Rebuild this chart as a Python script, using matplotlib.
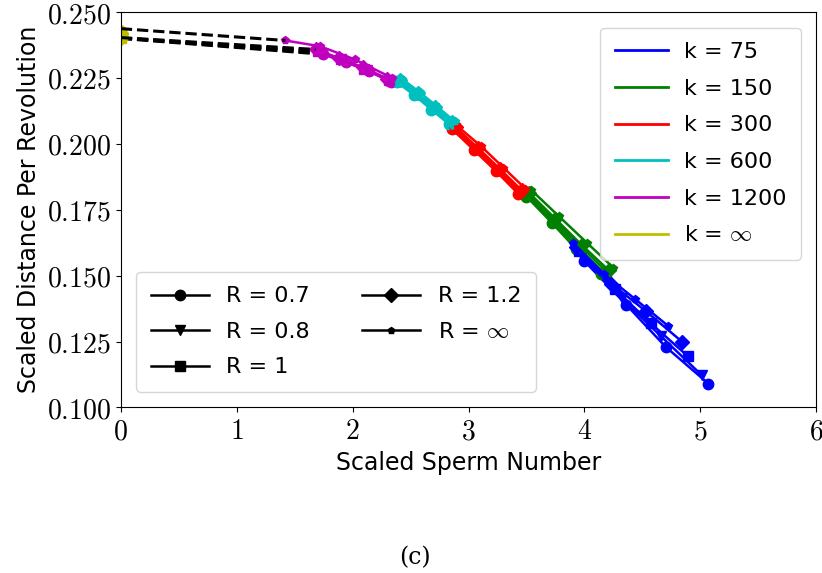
import numpy as np
import matplotlib.pyplot as plt
from matplotlib.lines import Line2D
from matplotlib.ticker import FuncFormatter

plt.rcParams['mathtext.fontset'] = 'cm'
plt.rcParams['font.family'] = 'DejaVu Sans'

# curves per R value; each k has 4 points (sperm number, distance)
k_labels = ['75', '150', '300', '600', '1200', r'$\infty$']
k_colors = ['b', 'g', 'r', 'c', 'm', 'y']
R_labels = ['0.7', '0.8', '1', '1.2', r'$\infty$']
R_markers = ['o', 'v', 's', 'D', 'p']

x_R07 = [[4.00, 4.36, 4.70, 5.07], [3.50, 3.72, 3.93, 4.14], [2.86, 3.05, 3.24, 3.43],
         [2.38, 2.53, 2.68, 2.83], [1.74, 1.94, 2.14, 2.33], [0, 0, 0, 0]]
y_R07 = [[0.1555, 0.1390, 0.1230, 0.1090], [0.1800, 0.1700, 0.1600, 0.1505],
         [0.2055, 0.1975, 0.1895, 0.1810], [0.2235, 0.2185, 0.2130, 0.2075],
         [0.2340, 0.2310, 0.2275, 0.2235], [0.2400, 0.2404, 0.2408, 0.2412]]

x_R08 = [[3.98, 4.32, 4.66, 5.01], [3.50, 3.73, 3.95, 4.17], [2.87, 3.06, 3.25, 3.44],
         [2.39, 2.54, 2.69, 2.84], [1.72, 1.92, 2.12, 2.32], [0, 0, 0, 0]]
y_R08 = [[0.1575, 0.1415, 0.1270, 0.1123], [0.1805, 0.1705, 0.1605, 0.1510],
         [0.2058, 0.1978, 0.1898, 0.1815], [0.2237, 0.2187, 0.2133, 0.2078],
         [0.2345, 0.2315, 0.2280, 0.2240], [0.2401, 0.2405, 0.2409, 0.2413]]

x_R1 = [[3.95, 4.26, 4.57, 4.89], [3.51, 3.74, 3.97, 4.19], [2.88, 3.07, 3.26, 3.45],
        [2.40, 2.55, 2.70, 2.85], [1.70, 1.90, 2.10, 2.31], [0, 0, 0, 0]]
y_R1 = [[0.1595, 0.1450, 0.1320, 0.1195], [0.1810, 0.1710, 0.1610, 0.1515],
        [0.2060, 0.1982, 0.1902, 0.1820], [0.2240, 0.2190, 0.2136, 0.2080],
        [0.2352, 0.2320, 0.2285, 0.2243], [0.2402, 0.2407, 0.2412, 0.2417]]

x_R12 = [[3.93, 4.23, 4.53, 4.84], [3.52, 3.75, 3.98, 4.21], [2.89, 3.08, 3.27, 3.46],
         [2.41, 2.56, 2.71, 2.86], [1.68, 1.88, 2.09, 2.30], [0, 0, 0, 0]]
y_R12 = [[0.1610, 0.1470, 0.1365, 0.1250], [0.1815, 0.1715, 0.1615, 0.1520],
         [0.2062, 0.1985, 0.1905, 0.1823], [0.2242, 0.2192, 0.2138, 0.2082],
         [0.2358, 0.2326, 0.2290, 0.2247], [0.2403, 0.2409, 0.2415, 0.2420]]

x_Rinf = [[3.90, 4.17, 4.44, 4.72], [3.54, 3.78, 4.02, 4.25], [2.91, 3.11, 3.30, 3.49],
          [2.43, 2.58, 2.73, 2.88], [1.42, 1.72, 2.02, 2.34], [0, 0, 0, 0]]
y_Rinf = [[0.1625, 0.1505, 0.1410, 0.1310], [0.1825, 0.1725, 0.1625, 0.1530],
          [0.2065, 0.1990, 0.1910, 0.1830], [0.2245, 0.2195, 0.2141, 0.2085],
          [0.2392, 0.2370, 0.2320, 0.2250], [0.2437, 0.2434, 0.2431, 0.2428]]

all_x = [x_R07, x_R08, x_R1, x_R12, x_Rinf]
all_y = [y_R07, y_R08, y_R1, y_R12, y_Rinf]

fig = plt.figure(figsize=(8.22, 5.73), dpi=100)
ax = fig.add_axes([0.147, 0.289, 0.846, 0.69])

for xs, ys, mk in zip(all_x, all_y, R_markers):
    ms = 5.5 if mk == 'p' else 7.5
    for xk, yk, col in zip(xs, ys, k_colors):
        ax.plot(xk, yk, color=col, marker=mk, ms=ms, lw=1.8)
    # dashed link between k = inf and k = 1200
    ax.plot([xs[5][0], xs[4][0]], [ys[5][0], ys[4][0]], 'k--', lw=2.2)

ax.set_xlim(0, 6)
ax.set_ylim(0.1, 0.25)
ax.set_xticks(np.arange(0, 7, 1))
ax.set_yticks(np.arange(0.1, 0.2501, 0.025))
ax.xaxis.set_major_formatter(FuncFormatter(lambda v, p: '$%d$' % round(v)))
ax.yaxis.set_major_formatter(FuncFormatter(lambda v, p: '$%.3f$' % v))
ax.tick_params(labelsize=20)
ax.set_xlabel('Scaled Sperm Number', fontsize=17)
ax.set_ylabel('Scaled Distance Per Revolution', fontsize=17)

k_handles = [Line2D([], [], color=c, lw=2) for c in k_colors]
leg1 = ax.legend(k_handles, ['k = ' + s for s in k_labels], loc='upper right',
                 fontsize=16, handlelength=2.4, handletextpad=0.7, labelspacing=0.75,
                 borderpad=0.65, borderaxespad=0.7)
ax.add_artist(leg1)

R_handles = [Line2D([], [], color='k', marker=m, ms=(5 if m == 'p' else 7.5), lw=1.8)
             for m in R_markers]
ax.legend(R_handles, ['R = ' + s for s in R_labels], loc='lower left', ncol=2,
          fontsize=16, handlelength=2.6, labelspacing=0.7, columnspacing=2.35,
          borderpad=0.65, borderaxespad=0.7)

fig.text(0.505, 0.015, '(c)', fontsize=17, family='DejaVu Serif', ha='center')

plt.savefig('out.png')
